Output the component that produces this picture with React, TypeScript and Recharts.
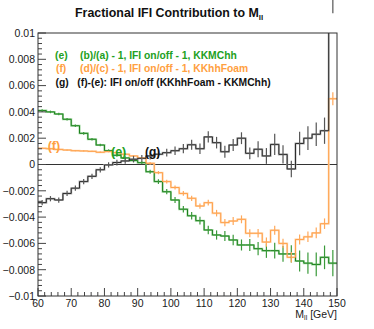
import { ComposedChart, Line, Scatter, ErrorBar, XAxis, YAxis, ReferenceLine } from 'recharts';

// bin edges of the M_ll histogram (2.5 GeV bins)
const BIN_EDGES = [
  60, 62.5, 65, 67.5, 70, 72.5, 75, 77.5, 80, 82.5, 85, 87.5, 90, 92.5, 95, 97.5, 100, 102.5,
  105, 107.5, 110, 112.5, 115, 117.5, 120, 122.5, 125, 127.5, 130, 132.5, 135, 137.5, 140, 142.5,
  145, 147.5, 150,
];

// (e) KKMChh
const GREEN = [
  0.0041, 0.004, 0.00384, 0.00344, 0.00295, 0.00237, 0.00192, 0.00148, 0.00105, 0.0007, 0.0005,
  0.0003, 0.00014, -0.00055, -0.0013, -0.00207, -0.0027, -0.0034, -0.0039, -0.00427, -0.00498,
  -0.00536, -0.00544, -0.00574, -0.00612, -0.00612, -0.0064, -0.00655, -0.00655, -0.0068, -0.0068,
  -0.00734, -0.0075, -0.0076, -0.00706, -0.0075,
];
const GREEN_ERR = [
  0.0001, 0.0001, 0.0001, 0.0001, 0.0001, 0.0001, 0.0001, 0.0001, 0.0001, 0.00012, 0.00012, 0.00012,
  0.00012, 0.00015, 0.00018, 0.0002, 0.00022, 0.00025, 0.00028, 0.0003, 0.00032, 0.00035, 0.00038,
  0.0004, 0.00042, 0.00045, 0.0005, 0.00055, 0.0006, 0.0006, 0.00065, 0.0008, 0.0008, 0.0009, 0.0009,
  0.001,
];

// (f) KKhhFoam
const ORANGE = [
  0.00123, 0.0012, 0.00115, 0.0011, 0.00105, 0.00103, 0.001, 0.00093, 0.00098, 0.0009, 0.00078,
  0.00065, 0.0005, 0.00009, -0.00062, -0.0013, -0.00175, -0.0022, -0.00257, -0.00316, -0.0029,
  -0.0037, -0.00442, -0.0043, -0.00417, -0.00523, -0.00523, -0.0059, -0.005, -0.006, -0.00706,
  -0.0057, -0.0055, -0.0052, -0.0045, 0.005,
];
const ORANGE_ERR = [
  0.00005, 0.00005, 0.00005, 0.00005, 0.00005, 0.00005, 0.00005, 0.00005, 0.00005, 0.00007, 0.00007,
  0.00007, 0.00007, 0.0001, 0.00012, 0.00014, 0.00016, 0.00018, 0.0002, 0.0002, 0.00022, 0.00025,
  0.00027, 0.0003, 0.0003, 0.0003, 0.00032, 0.00035, 0.00035, 0.00035, 0.0004, 0.00038, 0.0004,
  0.0004, 0.0004, 0.0005,
];

// (g) = (f) - (e)
const BLACK = [
  -0.0029, -0.0026, -0.0027, -0.0022, -0.0018, -0.0013, -0.0009, -0.0004, -0.00003, 0.00015, 0.00027,
  0.0004, 0.00047, 0.00065, 0.00078, 0.0009, 0.00105, 0.0012, 0.0015, 0.0012, 0.0021, 0.00166,
  0.00097, 0.00148, 0.002, 0.00085, 0.00116, 0.00065, 0.00153, 0.00077, -0.00034, 0.0016, 0.002,
  0.0023, 0.00257, 0.0125,
];
const BLACK_ERR = [
  0.0002, 0.0002, 0.0002, 0.0002, 0.0002, 0.0002, 0.0002, 0.0002, 0.0002, 0.00022, 0.00022, 0.00024,
  0.00025, 0.00027, 0.0003, 0.0003, 0.00032, 0.00035, 0.00038, 0.0004, 0.00042, 0.00044, 0.00045,
  0.00045, 0.00045, 0.00045, 0.0006, 0.0006, 0.0008, 0.0007, 0.00063, 0.0009, 0.0009, 0.0009, 0.001,
  0.001,
];

const Y_MAJOR = [0.01, 0.008, 0.006, 0.004, 0.002, 0, -0.002, -0.004, -0.006, -0.008, -0.01];
const Y_LABELS = ['0.01', '0.008', '0.006', '0.004', '0.002', '0', '\u22120.002', '\u22120.004', '\u22120.006', '\u22120.008', '\u22120.01'];
const X_MAJOR = [60, 70, 80, 90, 100, 110, 120, 130, 140, 150];
const X_LABELS = ['60', '70', '80', '90', '100', '110', '120', '130', '140', '150'];

const W = 374;
const H = 329;
const PLOT_LEFT = 38;
const PLOT_RIGHT = 337;
const PLOT_TOP = 33;
const PLOT_BOTTOM = 296;
const FONT = "'Liberation Sans', Arial, Helvetica, sans-serif";

const GREEN_TXT = '#22a022';
const ORANGE_TXT = '#ffa040';

// minor ticks (5 subdivisions per labelled step)
const Y_TICKS = Array.from({ length: 51 }, (_, i) => Number((-0.01 + i * 0.0004).toFixed(5)));
const X_TICKS = Array.from({ length: 46 }, (_, i) => 60 + i * 2);

const last = GREEN.length - 1;
const stepData = BIN_EDGES.map((x, i) => ({
  x,
  green: GREEN[Math.min(i, last)],
  orange: ORANGE[Math.min(i, last)],
  black: BLACK[Math.min(i, last)],
}));

const centers = GREEN.map((_, i) => (BIN_EDGES[i] + BIN_EDGES[i + 1]) / 2);
const greenPts = centers.map((x, i) => ({ x, y: GREEN[i], err: GREEN_ERR[i] }));
const orangePts = centers.map((x, i) => ({ x, y: ORANGE[i], err: ORANGE_ERR[i] }));
const blackPts = centers.map((x, i) => ({ x, y: BLACK[i], err: BLACK_ERR[i] }));

const NoShape = () => <g />;

const YTick = (props: any) => {
  const { y, payload } = props;
  const idx = Y_MAJOR.findIndex((m) => Math.abs(m - payload.value) < 1e-9);
  const major = idx >= 0;
  return (
    <g>
      <line x1={PLOT_LEFT} x2={PLOT_LEFT + (major ? 8 : 4)} y1={y} y2={y} stroke="#444" />
      {major && (
        <text x={PLOT_LEFT - 3} y={y + 3.8} textAnchor="end" fontSize={10.5} fontFamily={FONT} fill="#1a1a1a">
          {Y_LABELS[idx]}
        </text>
      )}
    </g>
  );
};

const XTick = (props: any) => {
  const { x, payload } = props;
  const idx = X_MAJOR.indexOf(payload.value);
  const major = idx >= 0;
  return (
    <g>
      <line x1={x} x2={x} y1={PLOT_BOTTOM} y2={PLOT_BOTTOM - (major ? 8 : 4)} stroke="#444" />
      {major && (
        <text x={x} y={PLOT_BOTTOM + 10.5} textAnchor="middle" fontSize={10.5} fontFamily={FONT} fill="#1a1a1a">
          {X_LABELS[idx]}
        </text>
      )}
    </g>
  );
};

export default function App() {
  return (
    <div style={{ position: 'absolute', left: 0, top: 0, width: W, height: H, background: '#fff' }}>
      <ComposedChart
        width={W}
        height={H}
        data={stepData}
        margin={{ top: PLOT_TOP, right: W - PLOT_RIGHT, bottom: 0, left: 0 }}
      >
        <XAxis
          dataKey="x"
          type="number"
          domain={[60, 150]}
          allowDataOverflow
          ticks={X_TICKS}
          interval={0}
          tick={<XTick />}
          tickLine={false}
          axisLine={false}
          height={H - PLOT_BOTTOM}
        />
        <YAxis
          type="number"
          domain={[-0.01, 0.01]}
          allowDataOverflow
          ticks={Y_TICKS}
          interval={0}
          tick={<YTick />}
          tickLine={false}
          axisLine={false}
          width={PLOT_LEFT}
        />
        <ReferenceLine y={0} stroke="#333" strokeWidth={1} />

        <Line type="stepAfter" dataKey="green" stroke="#9ad59a" strokeWidth={2} dot={false} isAnimationActive={false} />
        <Line type="stepAfter" dataKey="orange" stroke="#ffd7b0" strokeWidth={2} dot={false} isAnimationActive={false} />
        <Line type="stepAfter" dataKey="black" stroke="#b0b0b0" strokeWidth={2} dot={false} isAnimationActive={false} />
        <Line type="stepAfter" dataKey="green" stroke="#1d7f1d" strokeWidth={1} dot={false} isAnimationActive={false} />
        <Line type="stepAfter" dataKey="orange" stroke="#ffa04a" strokeWidth={1} dot={false} isAnimationActive={false} />
        <Line type="stepAfter" dataKey="black" stroke="#2a2a2a" strokeWidth={1} dot={false} isAnimationActive={false} />

        <Scatter data={greenPts} dataKey="y" shape={NoShape} isAnimationActive={false}>
          <ErrorBar dataKey="err" direction="y" width={0} stroke="#3a9a3a" strokeWidth={1.2} />
        </Scatter>
        <Scatter data={orangePts} dataKey="y" shape={NoShape} isAnimationActive={false}>
          <ErrorBar dataKey="err" direction="y" width={0} stroke="#ffa85a" strokeWidth={1.2} />
        </Scatter>
        <Scatter data={blackPts} dataKey="y" shape={NoShape} isAnimationActive={false}>
          <ErrorBar dataKey="err" direction="y" width={0} stroke="#555" strokeWidth={1.2} />
        </Scatter>
      </ComposedChart>

      <svg
        width={W}
        height={H}
        style={{ position: 'absolute', left: 0, top: 0, pointerEvents: 'none' }}
        fontFamily={FONT}
      >
        <rect
          x={PLOT_LEFT}
          y={PLOT_TOP}
          width={PLOT_RIGHT - PLOT_LEFT}
          height={PLOT_BOTTOM - PLOT_TOP}
          fill="none"
          stroke="#333"
          strokeWidth={1}
        />
        <text x={75} y={16.7} fontSize={12.4} fontWeight="bold" fill="#111">
          Fractional IFI Contribution to M
          <tspan fontSize={8} dy={3}>ll</tspan>
        </text>

        <g fontSize={10.3} fontWeight="bold" style={{ whiteSpace: 'pre' }}>
          <text x={55} y={58.5} fill={GREEN_TXT}>(e)</text>
          <text x={80} y={58.5} fill={GREEN_TXT}>{'(b)/(a) - 1,  IFI on/off - 1,  KKMChh'}</text>
          <text x={56} y={72} fill={ORANGE_TXT}>(f)</text>
          <text x={80} y={72} fill={ORANGE_TXT}>{'(d)/(c) - 1,  IFI on/off - 1,  KKhhFoam'}</text>
          <text x={55.5} y={85.7} fill="#111">(g)</text>
          <text x={77.3} y={85.7} fill="#111">{'(f)-(e): IFI on/off (KKhhFoam - KKMChh)'}</text>
        </g>

        <text x={47.7} y={149.7} fontSize={12.5} fontWeight="bold" fill={ORANGE_TXT}>(f)</text>
        <text x={111} y={156} fontSize={12.5} fontWeight="bold" fill={GREEN_TXT}>(e)</text>
        <text x={145} y={155.7} fontSize={12} fontWeight="bold" fill="#111">(g)</text>

        <text x={PLOT_RIGHT} y={317.5} textAnchor="end" fontSize={10.5} fill="#1a1a1a">
          M<tspan fontSize={7} dy={2.5}>ll</tspan>
          <tspan dy={-2.5}> [GeV]</tspan>
        </text>
      </svg>
    </div>
  );
}
